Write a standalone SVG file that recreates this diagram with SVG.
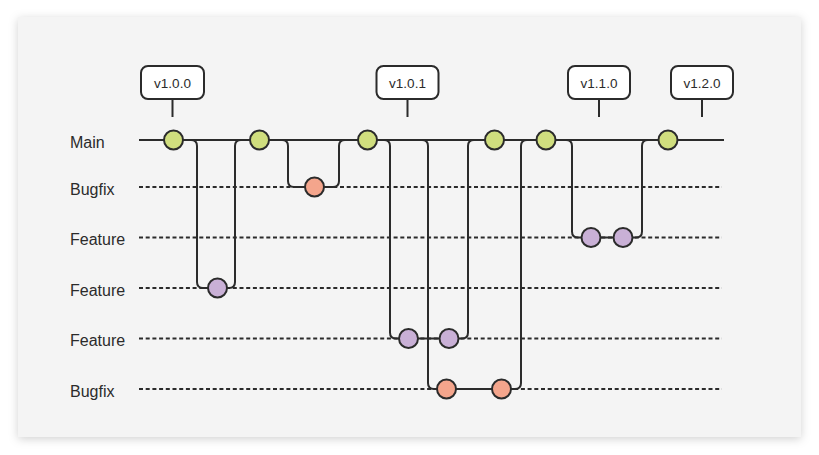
<svg xmlns="http://www.w3.org/2000/svg" width="819" height="455" viewBox="0 0 819 455">
  <defs>
    <filter id="shadow" x="-5%" y="-5%" width="110%" height="115%">
      <feDropShadow dx="0" dy="2" stdDeviation="5" flood-color="#000" flood-opacity="0.18"/>
    </filter>
  </defs>
  <style>
    .label { font-family: "Liberation Sans", Arial, sans-serif; font-size: 16px; fill: #2b2b2b; }
    .tagtext { font-family: "Liberation Sans", Arial, sans-serif; font-size: 13.5px; fill: #2b2b2b; text-anchor: middle; }
    .tagbox { fill: #ffffff; stroke: #2b2b2b; stroke-width: 2; }
    .stem { stroke: #2b2b2b; stroke-width: 2; }
    .lane { stroke: #2b2b2b; stroke-width: 2; stroke-dasharray: 4 2.7; fill: none; }
    .main { stroke: #2b2b2b; stroke-width: 2; fill: none; }
    .branch { stroke: #2b2b2b; stroke-width: 2; fill: none; }
    .c { stroke: #2b2b2b; stroke-width: 2; }
    .green { fill: #d0de7e; }
    .purple { fill: #c9b0d6; }
    .orange { fill: #f4a58c; }
  </style>
  <rect x="0" y="0" width="819" height="455" fill="#ffffff"/>
  <rect x="18" y="17" width="783" height="420" fill="#f4f4f4" filter="url(#shadow)"/>

  <g id="labels">
    <text class="label" x="70" y="147.5">Main</text>
    <text class="label" x="70" y="194.5">Bugfix</text>
    <text class="label" x="70" y="245">Feature</text>
    <text class="label" x="70" y="295.5">Feature</text>
    <text class="label" x="70" y="346">Feature</text>
    <text class="label" x="70" y="396.5">Bugfix</text>
  </g>

  <g id="lanes">
    <line class="main" x1="139" y1="140" x2="724" y2="140"/>
    <line class="lane" x1="139" y1="187" x2="722" y2="187"/>
    <line class="lane" x1="139" y1="237.5" x2="722" y2="237.5"/>
    <line class="lane" x1="139" y1="288" x2="722" y2="288"/>
    <line class="lane" x1="139" y1="338.5" x2="722" y2="338.5"/>
    <line class="lane" x1="139" y1="389" x2="722" y2="389"/>
  </g>

  <g id="connectors">
    <path class="branch" d="M185,140 H191 Q197,140 197,146 V282 Q197,288 203,288 H229 Q235,288 235,282 V146 Q235,140 241,140 H250"/>
    <path class="branch" d="M280,140 H282 Q288,140 288,146 V181 Q288,187 294,187 H333 Q339,187 339,181 V146 Q339,140 345,140 H355"/>
    <path class="branch" d="M380,140 H384 Q390,140 390,146 V332.5 Q390,338.5 396,338.5 H462 Q468,338.5 468,332.5 V146 Q468,140 474,140 H480"/>
    <path class="branch" d="M418,140 H422 Q428,140 428,146 V383 Q428,389 434,389 H515 Q521,389 521,383 V146 Q521,140 527,140 H533"/>
    <path class="branch" d="M560,140 H566 Q572,140 572,146 V231.5 Q572,237.5 578,237.5 H636 Q642,237.5 642,231.5 V146 Q642,140 648,140 H655"/>
    <line class="stem" x1="172.5" y1="99" x2="172.5" y2="117"/>
    <line class="stem" x1="407.5" y1="99" x2="407.5" y2="117"/>
    <line class="stem" x1="599" y1="99" x2="599" y2="117"/>
    <line class="stem" x1="702" y1="99" x2="702" y2="117"/>
  </g>

  <g id="tag-v100"><rect class="tagbox" x="141" y="66" width="63" height="33" rx="7"/><text class="tagtext" x="172.5" y="88">v1.0.0</text></g>
  <g id="tag-v101"><rect class="tagbox" x="376.5" y="66" width="62" height="33" rx="7"/><text class="tagtext" x="407.5" y="88">v1.0.1</text></g>
  <g id="tag-v110"><rect class="tagbox" x="568" y="66" width="62" height="33" rx="7"/><text class="tagtext" x="599" y="88">v1.1.0</text></g>
  <g id="tag-v120"><rect class="tagbox" x="671" y="66" width="62" height="33" rx="7"/><text class="tagtext" x="702" y="88">v1.2.0</text></g>

  <g id="commit-m1"><circle class="c green" cx="173.5" cy="140" r="9.5"/></g>
  <g id="commit-m2"><circle class="c green" cx="259.5" cy="140" r="9.5"/></g>
  <g id="commit-m3"><circle class="c green" cx="367.5" cy="140" r="9.5"/></g>
  <g id="commit-m4"><circle class="c green" cx="494.5" cy="140" r="9.5"/></g>
  <g id="commit-m5"><circle class="c green" cx="546" cy="140" r="9.5"/></g>
  <g id="commit-m6"><circle class="c green" cx="668" cy="140" r="9.5"/></g>
  <g id="commit-b1"><circle class="c orange" cx="314.5" cy="187" r="9.5"/></g>
  <g id="commit-f2a"><circle class="c purple" cx="217.5" cy="288" r="9.5"/></g>
  <g id="commit-f3a"><circle class="c purple" cx="408.5" cy="338.5" r="9.5"/></g>
  <g id="commit-f3b"><circle class="c purple" cx="449" cy="338.5" r="9.5"/></g>
  <g id="commit-b2a"><circle class="c orange" cx="446.5" cy="389" r="9.5"/></g>
  <g id="commit-b2b"><circle class="c orange" cx="501.5" cy="389" r="9.5"/></g>
  <g id="commit-f1a"><circle class="c purple" cx="591" cy="237.5" r="9.5"/></g>
  <g id="commit-f1b"><circle class="c purple" cx="623" cy="237.5" r="9.5"/></g>
</svg>
